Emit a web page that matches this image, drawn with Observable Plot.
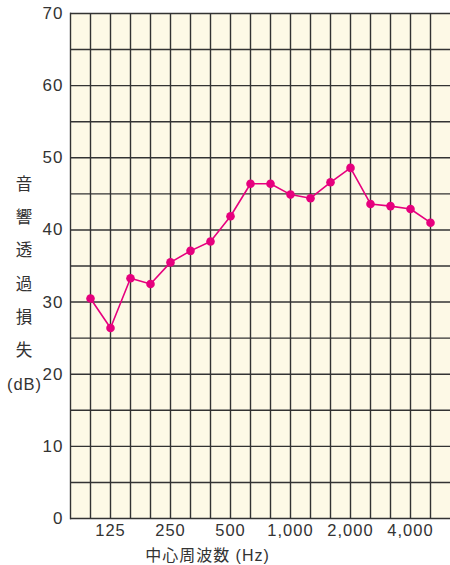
<!DOCTYPE html>
<html>
<head>
<meta charset="utf-8">
<script src="https://cdn.jsdelivr.net/npm/d3@7"></script>
<script src="https://cdn.jsdelivr.net/npm/@observablehq/plot@0.6"></script>
<style>
  html, body { margin: 0; padding: 0; background: #fff; }
  #chart svg { display: block; }
  #chart svg text { letter-spacing: 1px; }
</style>
</head>
<body>
<div id="chart"></div>
<script>
// 1/3-octave centre frequencies (Hz)
const freqs = ["100","125","160","200","250","315","400","500","630","800","1000","1250","1600","2000","2500","3150","4000","5000"];
// sound transmission loss (dB)
const loss = [30.5, 26.4, 33.3, 32.5, 35.5, 37.1, 38.4, 41.9, 46.4, 46.4, 44.9, 44.4, 46.6, 48.6, 43.6, 43.3, 42.9, 41.0];
// axis ticks
const xTicks = ["125","250","500","1000","2000","4000"];
const xTickLabels = ["125","250","500","1,000","2,000","4,000"];
const yTicks = [0, 10, 20, 30, 40, 50, 60, 70];
const yGrid = [0, 5, 10, 15, 20, 25, 30, 35, 40, 45, 50, 55, 60, 65, 70];
const yTitle = "音\n響\n透\n過\n損\n失\n(dB)";
const xTitle = "中心周波数 (Hz)";

const rows = freqs.map((f, i) => ({freq: f, loss: loss[i]}));
const labelOf = new Map(xTicks.map((t, i) => [t, xTickLabels[i]]));

const bg = "#fdf9e6";
const gridColor = "#333";
const pink = "#e6007e";
const textColor = "#333";

const chart = Plot.plot({
  width: 450,
  height: 565,
  marginTop: 13,
  marginBottom: 47,
  marginLeft: 70,
  marginRight: 0,
  style: {fontFamily: "'Liberation Sans', 'Noto Sans CJK JP', sans-serif", color: textColor, background: "#fff"},
  x: {type: "point", domain: freqs, padding: 1},
  y: {domain: [0, 70]},
  marks: [
    Plot.frame({fill: bg, stroke: null}),
    Plot.ruleY(yGrid, {stroke: gridColor, strokeWidth: 1.4}),
    Plot.ruleX(freqs, {stroke: gridColor, strokeWidth: 1.4}),
    Plot.frame({anchor: "left", stroke: gridColor, strokeWidth: 1.4}),
    Plot.line(rows, {x: "freq", y: "loss", stroke: pink, strokeWidth: 1.6}),
    Plot.dot(rows, {x: "freq", y: "loss", fill: pink, r: 4.3}),
    Plot.axisY(yTicks, {tickSize: 0, tickPadding: 7, fontSize: 17, label: null, fill: textColor}),
    Plot.axisX(xTicks, {tickSize: 0, tickPadding: 6, fontSize: 16.5, label: null, fill: textColor, tickFormat: d => labelOf.get(d)}),
    Plot.text([yTitle], {frameAnchor: "left", dx: -46, dy: 13, textAnchor: "middle", lineAnchor: "middle", lineHeight: 2.02, fontSize: 16.5, fill: textColor}),
    Plot.text([xTitle], {frameAnchor: "bottom", dx: -53, dy: 37, textAnchor: "middle", lineAnchor: "middle", fontSize: 16, fill: textColor})
  ]
});
document.getElementById("chart").appendChild(chart);
</script>
</body>
</html>
